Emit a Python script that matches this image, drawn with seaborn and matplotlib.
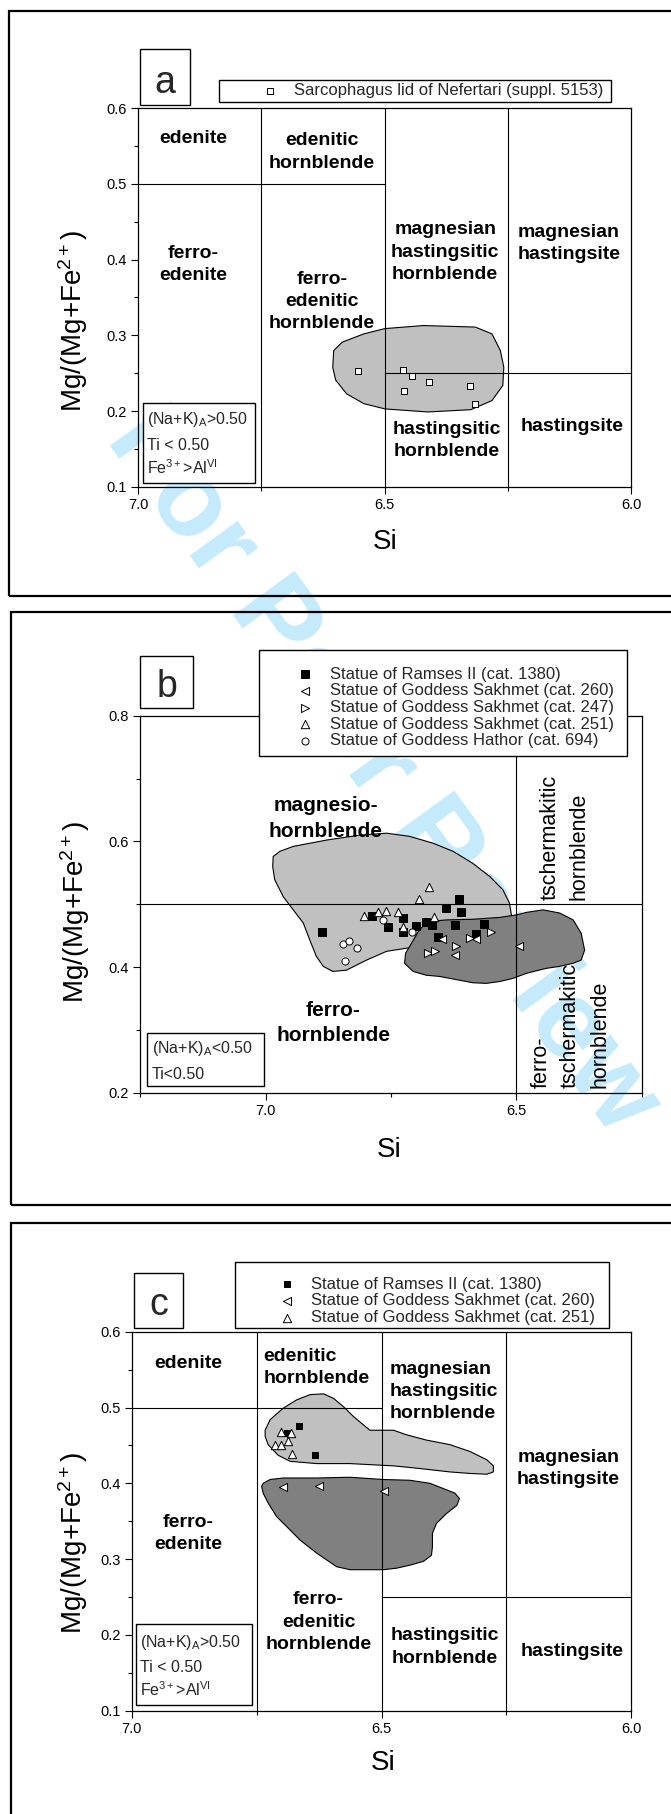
import matplotlib
matplotlib.use("Agg")
import matplotlib.pyplot as plt
from matplotlib.patches import Rectangle
from matplotlib.ticker import MultipleLocator, FormatStrFormatter
import seaborn as sns

# ---------------- data ----------------
# panel a: Sarcophagus lid of Nefertari
a_si = [6.553, 6.463, 6.445, 6.409, 6.461, 6.326, 6.316]
a_mg = [0.253, 0.255, 0.246, 0.238, 0.227, 0.233, 0.209]
a_field_si = [6.603, 6.586, 6.542, 6.499, 6.421, 6.316, 6.282, 6.265, 6.258, 6.260,
              6.282, 6.325, 6.412, 6.499, 6.542, 6.577, 6.599, 6.605]
a_field_mg = [0.280, 0.291, 0.302, 0.309, 0.313, 0.311, 0.302, 0.280, 0.258, 0.234,
              0.214, 0.202, 0.199, 0.203, 0.210, 0.223, 0.241, 0.258]

# panel b
b_ramses_si = [6.887, 6.787, 6.757, 6.726, 6.726, 6.701, 6.681, 6.668, 6.641, 6.615,
               6.611, 6.622, 6.656, 6.580, 6.565]
b_ramses_mg = [0.455, 0.481, 0.463, 0.478, 0.455, 0.465, 0.472, 0.467, 0.494, 0.509,
               0.487, 0.467, 0.448, 0.452, 0.468]
b_s260_si = [6.648, 6.581, 6.623, 6.494]
b_s260_mg = [0.444, 0.444, 0.419, 0.434]
b_s247_si = [6.677, 6.663, 6.620, 6.592, 6.550]
b_s247_mg = [0.423, 0.425, 0.433, 0.447, 0.456]
b_s251_si = [6.804, 6.776, 6.761, 6.736, 6.726, 6.695, 6.675, 6.664]
b_s251_mg = [0.481, 0.487, 0.489, 0.488, 0.464, 0.508, 0.528, 0.480]
b_hathor_si = [6.846, 6.834, 6.818, 6.842, 6.767, 6.709]
b_hathor_mg = [0.437, 0.441, 0.431, 0.409, 0.475, 0.456]
b_field1_si = [6.985, 6.972, 6.945, 6.879, 6.812, 6.759, 6.713, 6.666, 6.626, 6.587,
               6.553, 6.527, 6.514, 6.510, 6.520, 6.613, 6.699, 6.719, 6.759, 6.799,
               6.839, 6.866, 6.885, 6.899, 6.912, 6.925, 6.945, 6.965, 6.982, 6.986]
b_field1_mg = [0.576, 0.584, 0.592, 0.602, 0.610, 0.613, 0.608, 0.597, 0.584, 0.565,
               0.544, 0.523, 0.502, 0.483, 0.459, 0.443, 0.432, 0.430, 0.425, 0.411,
               0.395, 0.393, 0.401, 0.417, 0.443, 0.470, 0.491, 0.512, 0.539, 0.560]
b_field2_si = [6.696, 6.679, 6.640, 6.587, 6.533, 6.500, 6.480, 6.447, 6.414, 6.387,
               6.371, 6.364, 6.371, 6.387, 6.414, 6.440, 6.480, 6.507, 6.533, 6.560,
               6.587, 6.620, 6.653, 6.680, 6.706, 6.723, 6.721, 6.709]
b_field2_mg = [0.456, 0.472, 0.475, 0.476, 0.479, 0.483, 0.487, 0.491, 0.486, 0.475,
               0.454, 0.427, 0.411, 0.406, 0.401, 0.398, 0.390, 0.382, 0.377, 0.374,
               0.375, 0.380, 0.385, 0.387, 0.393, 0.406, 0.422, 0.438]

# panel c
c_ramses_si = [6.665, 6.633, 6.690]
c_ramses_mg = [0.475, 0.437, 0.467]
c_s260_si = [6.698, 6.626, 6.495]
c_s260_mg = [0.395, 0.396, 0.390]
c_s251_si = [6.701, 6.682, 6.687, 6.713, 6.702, 6.680]
c_s251_mg = [0.468, 0.467, 0.456, 0.451, 0.450, 0.439]
c_field1_si = [6.733, 6.723, 6.697, 6.670, 6.643, 6.616, 6.596, 6.576, 6.556, 6.536,
               6.523, 6.476, 6.450, 6.410, 6.363, 6.323, 6.289, 6.276, 6.276, 6.289,
               6.323, 6.363, 6.430, 6.476, 6.563, 6.630, 6.683, 6.707, 6.727, 6.733]
c_field1_mg = [0.470, 0.484, 0.499, 0.510, 0.517, 0.518, 0.512, 0.501, 0.488, 0.477,
               0.470, 0.470, 0.464, 0.457, 0.451, 0.442, 0.431, 0.423, 0.415, 0.412,
               0.413, 0.415, 0.420, 0.423, 0.426, 0.426, 0.429, 0.437, 0.451, 0.462]
c_field2_si = [6.737, 6.723, 6.697, 6.630, 6.563, 6.496, 6.443, 6.403, 6.376, 6.353,
               6.344, 6.349, 6.370, 6.390, 6.398, 6.398, 6.400, 6.416, 6.443, 6.470,
               6.496, 6.563, 6.590, 6.630, 6.663, 6.690, 6.710, 6.727, 6.737, 6.740]
c_field2_mg = [0.400, 0.405, 0.407, 0.407, 0.408, 0.405, 0.404, 0.400, 0.393, 0.387,
               0.380, 0.371, 0.360, 0.347, 0.334, 0.316, 0.305, 0.297, 0.292, 0.288,
               0.286, 0.286, 0.290, 0.308, 0.325, 0.343, 0.356, 0.374, 0.387, 0.396]

# classification boundaries (Si, Mg)
edenite_vlines = [6.75, 6.5, 6.25]
edenite_hlines = [([7.0, 6.5], 0.5), ([6.5, 6.0], 0.25)]
calcic_vlines = [6.5]
calcic_hlines = [([7.25, 6.25], 0.5)]

# field names: text, Si, Mg, alignment
a_names = [("edenite", 6.888, 0.560, "center"),
           ("edenitic\nhornblende", 6.627, 0.542, "center"),
           ("ferro-\nedenite", 6.888, 0.394, "center"),
           ("ferro-\nedenitic\nhornblende", 6.627, 0.345, "center"),
           ("magnesian\nhastingsitic\nhornblende", 6.377, 0.410, "center"),
           ("magnesian\nhastingsite", 6.126, 0.421, "center"),
           ("hastingsitic\nhornblende", 6.373, 0.161, "center"),
           ("hastingsite", 6.120, 0.180, "center")]
c_names = [("edenite", 6.887, 0.558, "center"),
           ("edenitic\nhornblende", 6.737, 0.553, "left"),
           ("magnesian\nhastingsitic\nhornblende", 6.484, 0.521, "left"),
           ("magnesian\nhastingsite", 6.126, 0.419, "center"),
           ("ferro-\nedenite", 6.887, 0.334, "center"),
           ("ferro-\nedenitic\nhornblende", 6.626, 0.217, "center"),
           ("hastingsitic\nhornblende", 6.373, 0.184, "center"),
           ("hastingsite", 6.119, 0.178, "center")]
b_names = [("magnesio-\nhornblende", 6.880, 0.636),
           ("ferro-\nhornblende", 6.865, 0.311)]
b_rot_names = [("tschermakitic\nhornblende", 6.404, 0.507),
               ("ferro-\ntschermakitic\nhornblende", 6.392, 0.208)]

# ---------------- style ----------------
sns.set_theme(style="ticks")
plt.rcParams["font.family"] = ["Liberation Sans", "DejaVu Sans"]
plt.rcParams["mathtext.fontset"] = "custom"
plt.rcParams["mathtext.rm"] = "Liberation Sans"
plt.rcParams["mathtext.it"] = "Liberation Sans:italic"
plt.rcParams["mathtext.bf"] = "Liberation Sans:bold"

W, H = 671, 1814
fig = plt.figure(figsize=(W / 100, H / 100), dpi=100)
fig.patch.set_facecolor("white")


def px_rect(x0, y0, x1, y1):
    return [x0 / W, 1 - y1 / H, (x1 - x0) / W, (y1 - y0) / H]


def box(x0, y0, x1, y1, lw=1.0, fill=True, z=2):
    r = Rectangle((x0 / W, 1 - y1 / H), (x1 - x0) / W, (y1 - y0) / H,
                  transform=fig.transFigure, facecolor="white" if fill else "none",
                  edgecolor="black", linewidth=lw, zorder=z)
    fig.add_artist(r)


def ftext(x, y, s, **kw):
    fig.text(x / W, 1 - y / H, s, **kw)


# watermark
fig.text(382 / W, 1 - 772 / H, "For Peer Review", rotation=-54, fontsize=80,
         fontweight="bold", color="#c4eafb", ha="center", va="center",
         rotation_mode="anchor", zorder=-1)

# panel frames
box(9.4, 10.7, 720, 596, lw=1.6, fill=False, z=1)
box(10.7, 611.7, 720, 1205, lw=1.6, fill=False, z=1)
box(10.7, 1223, 720, 1900, lw=1.6, fill=False, z=1)


def style_axes(ax, xlim, ylim, xmaj, xmin, ymaj, ymin):
    ax.set_facecolor("none")
    ax.set_xlim(*xlim)
    ax.set_ylim(*ylim)
    for sp in ax.spines.values():
        sp.set_visible(True)
        sp.set_color("black")
        sp.set_linewidth(0.9)
    ax.xaxis.set_major_locator(MultipleLocator(xmaj))
    ax.xaxis.set_minor_locator(MultipleLocator(xmin))
    ax.yaxis.set_major_locator(MultipleLocator(ymaj))
    ax.yaxis.set_minor_locator(MultipleLocator(ymin))
    ax.xaxis.set_major_formatter(FormatStrFormatter("%.1f"))
    ax.yaxis.set_major_formatter(FormatStrFormatter("%.1f"))
    ax.tick_params(which="major", direction="out", length=5, width=0.8,
                   labelsize=10.5, pad=3, colors="black", top=False, right=False)
    ax.tick_params(which="minor", direction="out", length=3, width=0.8,
                   colors="black", top=False, right=False)
    ax.grid(False)


def axis_labels(ax, ylab_xy, xlab_xy):
    ax.set_ylabel("Mg/(Mg+Fe$^{2+}$)", fontsize=20, color="black")
    ax.yaxis.set_label_coords(*ylab_xy)
    ax.yaxis.label.set_va("center")
    ax.set_xlabel("Si", fontsize=20, color="black")
    ax.xaxis.set_label_coords(*xlab_xy)
    ax.xaxis.label.set_va("center")


def boundaries(ax, vlines, hlines):
    for v in vlines:
        ax.axvline(v, color="black", lw=0.8, zorder=4)
    for xs, y in hlines:
        ax.plot(xs, [y, y], color="black", lw=0.8, zorder=4)


def field(ax, si, mg, color):
    ax.fill(si, mg, facecolor=color, edgecolor="black", linewidth=0.8, zorder=2)


def points(ax, si, mg, marker, face, size, label):
    sns.scatterplot(x=si, y=mg, marker=marker, s=size, color=face, edgecolor="black",
                    linewidth=0.7, ax=ax, zorder=6, legend=False, label=label)


def legend(ax, handle_left, center_y):
    h, l = ax.get_legend_handles_labels()
    leg = ax.get_legend()
    if leg is not None:
        leg.remove()
    fig.legend(h, l, loc="center left", bbox_to_anchor=(handle_left / W, 1 - center_y / H),
               frameon=False, fontsize=12, handlelength=1.0, handletextpad=0.97,
               labelspacing=0.1, borderpad=0, borderaxespad=0, scatterpoints=1)


bold_kw = dict(fontweight="bold", va="center", zorder=5, color="black")
cond_kw = dict(fontsize=11.5, va="baseline", zorder=3)

# ---------------- panel a ----------------
ax_a = fig.add_axes(px_rect(138, 108, 631, 487))
field(ax_a, a_field_si, a_field_mg, "#c0c0c0")
boundaries(ax_a, edenite_vlines, edenite_hlines)
points(ax_a, a_si, a_mg, "s", "white", 22, "Sarcophagus lid of Nefertari (suppl. 5153)")
for t, x, y, al in a_names:
    ax_a.text(x, y, t, fontsize=14, ha=al, multialignment=al, linespacing=1.4, **bold_kw)
style_axes(ax_a, (7.0, 6.0), (0.1, 0.6), 0.5, 0.25, 0.1, 0.05)
axis_labels(ax_a, (-0.132, 0.438), (0.501, -0.145))
box(219, 80, 611, 102, lw=1.0)
legend(ax_a, 261.3, 91)
box(140, 49, 190, 105, lw=1.0)
ftext(165, 93, "a", fontsize=27, ha="center", va="baseline", zorder=3)
box(143, 403, 255, 483, lw=1.0)
ftext(147, 424, "(Na+K)$_\\mathrm{A}$>0.50", **cond_kw)
ftext(147, 450, "Ti < 0.50", **cond_kw)
ftext(147, 474, "Fe$^{3+}$>Al$^{\\mathrm{VI}}$", **cond_kw)

# ---------------- panel b ----------------
ax_b = fig.add_axes(px_rect(140.3, 715.7, 641.8, 1092.7))
field(ax_b, b_field1_si, b_field1_mg, "#c0c0c0")
field(ax_b, b_field2_si, b_field2_mg, "#808080")
boundaries(ax_b, calcic_vlines, calcic_hlines)
points(ax_b, b_ramses_si, b_ramses_mg, "s", "black", 26, "Statue of Ramses II (cat. 1380)")
points(ax_b, b_s260_si, b_s260_mg, "<", "white", 34, "Statue of Goddess Sakhmet (cat. 260)")
points(ax_b, b_s247_si, b_s247_mg, ">", "white", 34, "Statue of Goddess Sakhmet (cat. 247)")
points(ax_b, b_s251_si, b_s251_mg, "^", "white", 36, "Statue of Goddess Sakhmet (cat. 251)")
points(ax_b, b_hathor_si, b_hathor_mg, "o", "white", 26, "Statue of Goddess Hathor (cat. 694)")
for t, x, y in b_names:
    ax_b.text(x, y, t, fontsize=15, ha="center", multialignment="center",
              linespacing=1.45, **bold_kw)
for t, x, y in b_rot_names:
    ax_b.text(x, y, t, fontsize=15.5, rotation=90, ha="center", va="bottom",
              multialignment="left", linespacing=1.5, zorder=5, color="black")
style_axes(ax_b, (7.25, 6.25), (0.2, 0.8), 0.5, 0.25, 0.2, 0.1)
axis_labels(ax_b, (-0.130, 0.479), (0.496, -0.152))
box(259, 650, 626.7, 756, lw=1.0)
legend(ax_b, 296.7, 707.5)
box(140, 656, 193, 708, lw=1.0)
ftext(167, 697, "b", fontsize=27, ha="center", va="baseline", zorder=3)
box(146.8, 1032.7, 264.4, 1086, lw=1.0)
ftext(152, 1053, "(Na+K)$_\\mathrm{A}$<0.50", **cond_kw)
ftext(152, 1079, "Ti<0.50", **cond_kw)

# ---------------- panel c ----------------
ax_c = fig.add_axes(px_rect(131.8, 1331.7, 631.2, 1710.7))
field(ax_c, c_field1_si, c_field1_mg, "#c0c0c0")
field(ax_c, c_field2_si, c_field2_mg, "#808080")
boundaries(ax_c, edenite_vlines, edenite_hlines)
points(ax_c, c_ramses_si, c_ramses_mg, "s", "black", 22, "Statue of Ramses II (cat. 1380)")
points(ax_c, c_s260_si, c_s260_mg, "<", "white", 34, "Statue of Goddess Sakhmet (cat. 260)")
points(ax_c, c_s251_si, c_s251_mg, "^", "white", 36, "Statue of Goddess Sakhmet (cat. 251)")
for t, x, y, al in c_names:
    ax_c.text(x, y, t, fontsize=14, ha=al, multialignment=al, linespacing=1.4, **bold_kw)
style_axes(ax_c, (7.0, 6.0), (0.1, 0.6), 0.5, 0.25, 0.1, 0.05)
axis_labels(ax_c, (-0.118, 0.442), (0.503, -0.139))
box(235, 1261.7, 609.3, 1328.3, lw=1.0)
legend(ax_c, 278.4, 1300.8)
box(133.5, 1273, 183, 1328, lw=1.0)
ftext(159, 1315, "c", fontsize=27, ha="center", va="baseline", zorder=3)
box(136, 1624, 251.6, 1705, lw=1.0)
ftext(140.5, 1647, "(Na+K)$_\\mathrm{A}$>0.50", **cond_kw)
ftext(140.5, 1672, "Ti < 0.50", **cond_kw)
ftext(140.5, 1696, "Fe$^{3+}$>Al$^{\\mathrm{VI}}$", **cond_kw)

fig.savefig("out.png", dpi=100, facecolor="white")
